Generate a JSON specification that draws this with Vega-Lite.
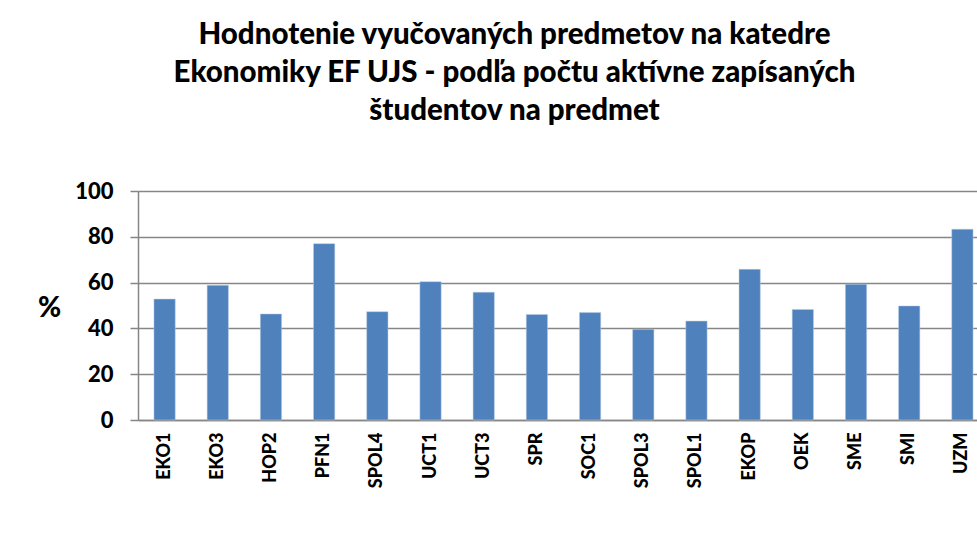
{
  "$schema": "https://vega.github.io/schema/vega-lite/v6.json",
  "width": 839,
  "height": 229,
  "autosize": {"type": "none"},
  "padding": {"left": 138, "top": 191, "right": 0, "bottom": 113},
  "background": "white",
  "title": {
    "text": ["Hodnotenie vyučovaných predmetov na katedre", "Ekonomiky EF UJS - podľa počtu aktívne zapísaných", "študentov na predmet"],
    "font": "Lato",
    "fontSize": 29.5,
    "fontWeight": 900,
    "color": "#000000",
    "lineHeight": 38,
    "anchor": "middle",
    "dx": -43,
    "offset": 54
  },
  "data": {
    "values": [
      {"predmet": "EKO1", "hodnota": 52.8},
      {"predmet": "EKO3", "hodnota": 58.8},
      {"predmet": "HOP2", "hodnota": 46.3},
      {"predmet": "PFN1", "hodnota": 77.0},
      {"predmet": "SPOL4", "hodnota": 47.3},
      {"predmet": "UCT1", "hodnota": 60.4},
      {"predmet": "UCT3", "hodnota": 55.8},
      {"predmet": "SPR", "hodnota": 46.1},
      {"predmet": "SOC1", "hodnota": 46.9},
      {"predmet": "SPOL3", "hodnota": 39.6},
      {"predmet": "SPOL1", "hodnota": 43.2},
      {"predmet": "EKOP", "hodnota": 65.8},
      {"predmet": "OEK", "hodnota": 48.3},
      {"predmet": "SME", "hodnota": 59.3},
      {"predmet": "SMI", "hodnota": 49.8},
      {"predmet": "UZM", "hodnota": 83.3}
    ]
  },
  "mark": {"type": "bar", "color": "#4F81BD", "stroke": "#B9CDE5", "strokeWidth": 0.5},
  "encoding": {
    "x": {
      "field": "predmet",
      "type": "nominal",
      "sort": null,
      "scale": {"range": [0, 851], "paddingInner": 0.6, "paddingOuter": 0.3},
      "axis": {
        "title": null,
        "labelAngle": -90,
        "labelFont": "Lato",
        "labelFontSize": 18,
        "labelFontWeight": 900,
        "labelColor": "#000000",
        "labelPadding": 12,
        "ticks": false,
        "domainColor": "#868686",
        "domainWidth": 1.5
      }
    },
    "y": {
      "field": "hodnota",
      "type": "quantitative",
      "scale": {"domain": [0, 100], "nice": false},
      "axis": {
        "values": [0, 20, 40, 60, 80, 100],
        "title": "%",
        "titleAngle": 0,
        "titleFont": "Lato",
        "titleFontSize": 28,
        "titleFontWeight": 900,
        "titleColor": "#000000",
        "titleX": -89,
        "titleY": 117,
        "titleAlign": "center",
        "titleBaseline": "middle",
        "labelFont": "Lato",
        "labelFontSize": 22,
        "labelFontWeight": 900,
        "labelColor": "#000000",
        "labelPadding": 17,
        "tickSize": 8,
        "tickColor": "#868686",
        "tickWidth": 1.5,
        "domainColor": "#868686",
        "domainWidth": 1.5,
        "grid": true,
        "gridColor": "#868686",
        "gridWidth": 1.5
      }
    }
  },
  "config": {"view": {"stroke": null}}
}
